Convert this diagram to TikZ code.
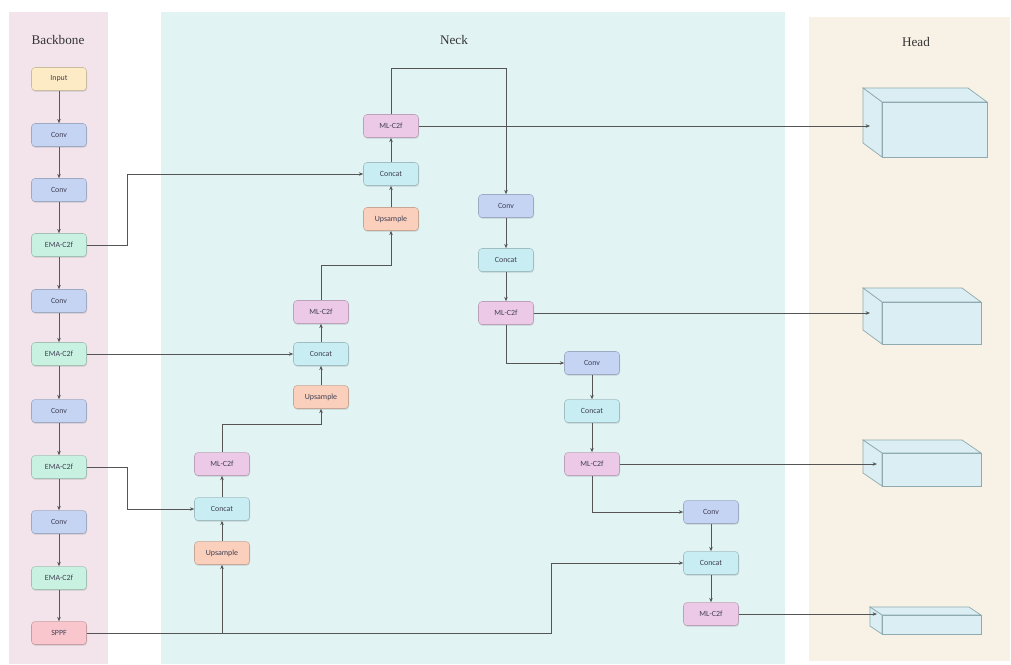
\documentclass[tikz,border=0pt]{standalone}
\usepackage{fontspec}
\setmainfont{Liberation Serif}
\newfontfamily\blockfont{Carlito}
\usetikzlibrary{arrows.meta,shadows}

\definecolor{bbpanel}{HTML}{F2E4EA}
\definecolor{neckpanel}{HTML}{E1F3F3}
\definecolor{headpanel}{HTML}{F8F1E5}
\definecolor{inputc}{HTML}{FDEBC6}
\definecolor{convc}{HTML}{C6D4F4}
\definecolor{emac}{HTML}{C9F1E1}
\definecolor{sppfc}{HTML}{FAC6CE}
\definecolor{mlc}{HTML}{ECC9E7}
\definecolor{catc}{HTML}{C8EDF2}
\definecolor{upc}{HTML}{FACFBB}
\definecolor{cubec}{HTML}{DAEEF3}
\definecolor{cubeedge}{HTML}{8FAAB0}
\definecolor{linec}{HTML}{555555}
\definecolor{textc}{HTML}{404055}

\newcommand{\headbox}[6]{%
  \filldraw[cube] (#1,#2) -- ++(-#5,-#6) -- ++(#3,0) -- ++(#5,#6) -- cycle;
  \filldraw[cube] (#1,#2) -- ++(-#5,-#6) -- ++(0,#4) -- ++(#5,#6) -- cycle;
  \filldraw[cube] (#1,#2) rectangle ++(#3,#4);}

\begin{document}
\begin{tikzpicture}[x=0.02cm,y=-0.02cm,
  blk/.style={draw=#1!80!black, fill=#1, line width=0.3pt, rounded corners=2pt,
    minimum width=1.1cm, minimum height=0.46cm, text=textc,
    font=\blockfont\fontsize{4.5}{5}\selectfont,
    drop shadow={shadow xshift=0.3pt, shadow yshift=-0.7pt, opacity=0.3, fill=gray}},
  arr/.style={draw=linec, line width=0.4pt, -{Stealth[length=2.5pt,width=2pt]}},
  cube/.style={fill=cubec, draw=cubeedge, line width=0.4pt},
  title/.style={font=\fontsize{7.5}{9}\selectfont, text=black!80}]
\useasboundingbox (0,0) rectangle (1011,664);

% panels
\fill[bbpanel] (9,12) rectangle (108,664);
\fill[neckpanel] (161,12) rectangle (785,664);
\fill[headpanel] (809,17) rectangle (1010,661);
\node[title] (tbb) at (58,40) {Backbone};
\node[title] (tneck) at (454,40) {Neck};
\node[title] (thead) at (916,42) {Head};

% backbone
\node[blk=inputc] (in) at (59,79) {Input};
\node[blk=convc] (b1) at (59,135) {Conv};
\node[blk=convc] (b2) at (59,190) {Conv};
\node[blk=emac] (e1) at (59,245) {EMA-C2f};
\node[blk=convc] (b3) at (59,301) {Conv};
\node[blk=emac] (e2) at (59,354) {EMA-C2f};
\node[blk=convc] (b4) at (59,411) {Conv};
\node[blk=emac] (e3) at (59,467) {EMA-C2f};
\node[blk=convc] (b5) at (59,522) {Conv};
\node[blk=emac] (e4) at (59,578) {EMA-C2f};
\node[blk=sppfc] (sppf) at (59,633) {SPPF};

% neck, top-down path
\node[blk=upc] (up1) at (222,553) {Upsample};
\node[blk=catc] (cat1) at (222,509) {Concat};
\node[blk=mlc] (ml1) at (222,464) {ML-C2f};
\node[blk=upc] (up2) at (321,397) {Upsample};
\node[blk=catc] (cat2) at (321,354) {Concat};
\node[blk=mlc] (ml2) at (321,312) {ML-C2f};
\node[blk=upc] (up3) at (391,219) {Upsample};
\node[blk=catc] (cat3) at (391,174) {Concat};
\node[blk=mlc] (ml3) at (391,126) {ML-C2f};

% neck, bottom-up path
\node[blk=convc] (cv4) at (506,206) {Conv};
\node[blk=catc] (cat4) at (506,260) {Concat};
\node[blk=mlc] (ml4) at (506,313) {ML-C2f};
\node[blk=convc] (cv5) at (592,363) {Conv};
\node[blk=catc] (cat5) at (592,411) {Concat};
\node[blk=mlc] (ml5) at (592,464) {ML-C2f};
\node[blk=convc] (cv6) at (711,512) {Conv};
\node[blk=catc] (cat6) at (711,563) {Concat};
\node[blk=mlc] (ml6) at (711,614) {ML-C2f};

% head
\headbox{882}{102}{105}{55}{19}{14}
\headbox{882}{302}{99}{42}{19}{14}
\headbox{882}{453}{99}{33}{19}{13}
\headbox{882}{615}{99}{19}{12}{8}
\coordinate (h1) at (870,126);
\coordinate (h2) at (870,313);
\coordinate (h3) at (877,464);
\coordinate (h4) at (877,614);

% backbone links
\draw[arr] (in) -- (b1);
\draw[arr] (b1) -- (b2);
\draw[arr] (b2) -- (e1);
\draw[arr] (e1) -- (b3);
\draw[arr] (b3) -- (e2);
\draw[arr] (e2) -- (b4);
\draw[arr] (b4) -- (e3);
\draw[arr] (e3) -- (b5);
\draw[arr] (b5) -- (e4);
\draw[arr] (e4) -- (sppf);

% skip links
\draw[arr] (e1.east) -- ++(41,0) |- (cat3.west);
\draw[arr] (e2.east) -- (cat2.west);
\draw[arr] (e3.east) -- ++(41,0) |- (cat1.west);
\draw[arr] (sppf.east) -- ++(465,0) |- (cat6.west);
\draw[arr] (up1.south |- sppf.east) -- (up1.south);

% top-down links
\draw[arr] (up1) -- (cat1);
\draw[arr] (cat1) -- (ml1);
\draw[arr] (ml1.north) -- ++(0,-28) -| (up2.south);
\draw[arr] (up2) -- (cat2);
\draw[arr] (cat2) -- (ml2);
\draw[arr] (ml2.north) -- ++(0,-35) -| (up3.south);
\draw[arr] (up3) -- (cat3);
\draw[arr] (cat3) -- (ml3);
\draw[arr] (ml3.north) -- ++(0,-46) -| (cv4.north);

% bottom-up links
\draw[arr] (cv4) -- (cat4);
\draw[arr] (cat4) -- (ml4);
\draw[arr] (ml4.south) |- (cv5.west);
\draw[arr] (cv5) -- (cat5);
\draw[arr] (cat5) -- (ml5);
\draw[arr] (ml5.south) |- (cv6.west);
\draw[arr] (cv6) -- (cat6);
\draw[arr] (cat6) -- (ml6);

% outputs
\draw[arr] (ml3.east) -- (h1);
\draw[arr] (ml4.east) -- (h2);
\draw[arr] (ml5.east) -- (h3);
\draw[arr] (ml6.east) -- (h4);
\end{tikzpicture}
\end{document}
